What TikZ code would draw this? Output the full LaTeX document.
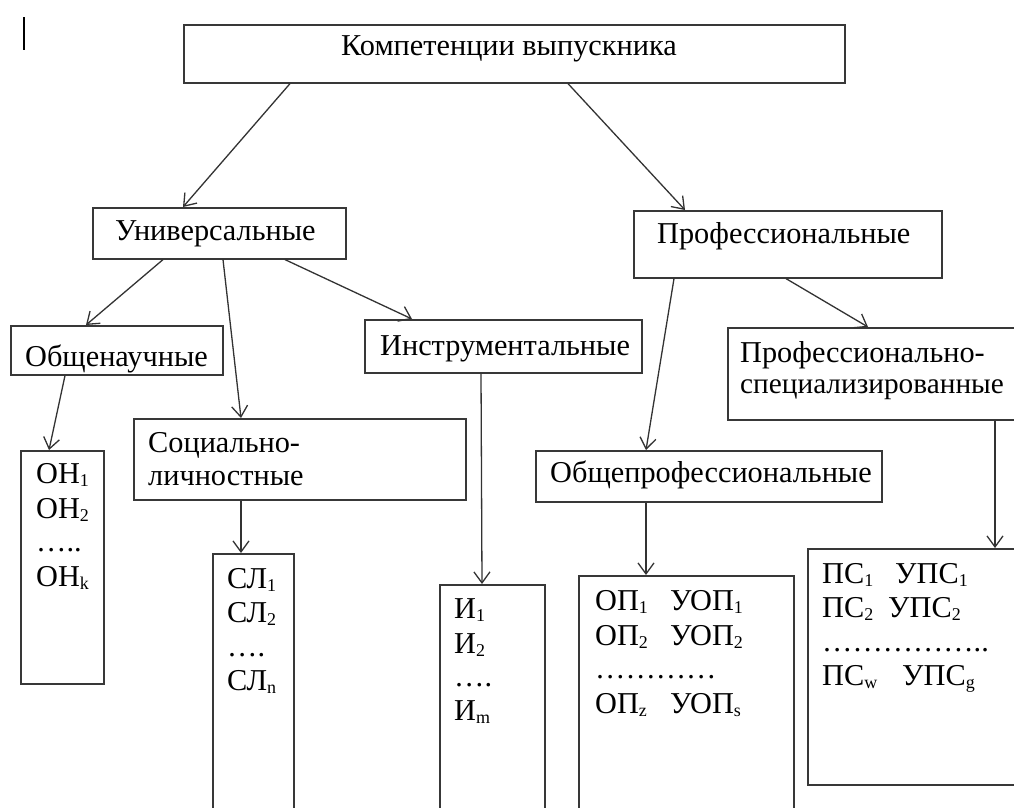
\documentclass[tikz,border=0pt]{standalone}
\usepackage{fontspec}
\setmainfont{Liberation Serif}
\usetikzlibrary{arrows.meta,calc}
\newcommand\sbx[1]{\raisebox{-3pt}{\fontsize{18}{18}\selectfont #1}}
\begin{document}
\begin{tikzpicture}[x=1pt,y=-1pt,
  box/.style={draw=black!78, line width=1.6pt, rectangle, inner sep=0pt, anchor=north west},
  lbl/.style={anchor=base west, inner sep=0pt, font=\fontsize{30.3}{36}\selectfont},
  arr/.style={draw=black!80, line width=1.3pt, -{Straight Barb[length=11pt,width=16pt,line width=1.3pt]}}]
\useasboundingbox (0,0) rectangle (1014,807);
\fill[white] (0,0) rectangle (1014,807);
\clip (0,0) rectangle (1014,807);
% cursor bar
\draw[line width=2pt, black] (24,17) -- (24,50);
% boxes
\node[box, minimum width=661pt, minimum height=58pt] (top) at (183,24) {};
\node[box, minimum width=253pt, minimum height=51pt] (univ) at (92,207) {};
\node[box, minimum width=308pt, minimum height=67pt] (prof) at (633,210) {};
\node[box, minimum width=212pt, minimum height=49pt] (obsh) at (10,325) {};
\node[box, minimum width=277pt, minimum height=53pt] (instr) at (364,319) {};
\node[box, minimum width=300pt, minimum height=92pt] (psp) at (727,327) {};
\node[box, minimum width=332pt, minimum height=81pt] (soc) at (133,418) {};
\node[box, minimum width=346pt, minimum height=51pt] (oprof) at (535,450) {};
\node[box, minimum width=83pt, minimum height=233pt] (on) at (20,450) {};
\node[box, minimum width=81pt, minimum height=280pt] (sl) at (212,553) {};
\node[box, minimum width=105pt, minimum height=250pt] (ii) at (439,584) {};
\node[box, minimum width=215pt, minimum height=260pt] (op) at (578,575) {};
\node[box, minimum width=230pt, minimum height=236pt] (ps) at (807,548) {};
% titles
\node[lbl] (ttop) at (341,55) {Компетенции выпускника};
\node[lbl] (tuniv) at (115,240) {Универсальные};
\node[lbl] (tprof) at (657,243) {Профессиональные};
\node[lbl] (tobsh) at (25,366) {Общенаучные};
\node[lbl] (tinstr) at (380,355) {Инструментальные};
\node[lbl] (tpsp1) at (740,362) {Профессионально-};
\node[lbl, font=\fontsize{29.3}{36}\selectfont] (tpsp2) at (740,393) {специализированные};
\node[lbl] (tsoc1) at (148,452) {Социально-};
\node[lbl] (tsoc2) at (148,485) {личностные};
\node[lbl] (toprof) at (550,482) {Общепрофессиональные};
% lists
\node[lbl] (on1) at (36,483) {ОН\sbx{1}};
\node[lbl] (on2) at (36,518) {ОН\sbx{2}};
\node[lbl] (on3) at (36,551) {…..};
\node[lbl] (on4) at (36,586) {ОН\sbx{k}};
\node[lbl] (sl1) at (227,588) {СЛ\sbx{1}};
\node[lbl] (sl2) at (227,622) {СЛ\sbx{2}};
\node[lbl] (sl3) at (227,656) {….};
\node[lbl] (sl4) at (227,690) {СЛ\sbx{n}};
\node[lbl] (i1) at (454,618) {И\sbx{1}};
\node[lbl] (i2) at (454,653) {И\sbx{2}};
\node[lbl] (i3) at (454,686) {….};
\node[lbl] (i4) at (454,720) {И\sbx{m}};
\node[lbl] (op1) at (595,610) {ОП\sbx{1}};
\node[lbl] (uop1) at (670,610) {УОП\sbx{1}};
\node[lbl] (op2) at (595,645) {ОП\sbx{2}};
\node[lbl] (uop2) at (670,645) {УОП\sbx{2}};
\node[lbl] (op3) at (595,678) {…………};
\node[lbl] (op4) at (595,713) {ОП\sbx{z}};
\node[lbl] (uop4) at (670,713) {УОП\sbx{s}};
\node[lbl] (ps1) at (822,583) {ПС\sbx{1}};
\node[lbl] (ups1) at (895,583) {УПС\sbx{1}};
\node[lbl] (ps2) at (822,617) {ПС\sbx{2}};
\node[lbl] (ups2) at (888,617) {УПС\sbx{2}};
\node[lbl] (ps3) at (822,651) {……………..};
\node[lbl] (ps4) at (822,685) {ПС\sbx{w}};
\node[lbl] (ups4) at (902,685) {УПС\sbx{g}};
% connectors
\draw[arr] ($(top.south west)+(107,0)$) -- ($(univ.north west)+(91,0)$);
\draw[arr] ($(top.south west)+(385,0)$) -- ($(prof.north west)+(52,0)$);
\draw[arr] ($(univ.south west)+(71,0)$) -- ($(obsh.north west)+(76,0)$);
\draw[arr] ($(univ.south west)+(131,0)$) -- ($(soc.north west)+(108,0)$);
\draw[arr] ($(univ.south west)+(193,0)$) -- ($(instr.north west)+(48,0)$);
\draw[arr] ($(obsh.south west)+(55,0)$) -- ($(on.north west)+(29,0)$);
\draw[arr] ($(soc.south west)+(108,0)$) -- ($(sl.north west)+(29,0)$);
\draw[arr] ($(instr.south west)+(117,0)$) -- ($(ii.north west)+(43,0)$);
\draw[arr] ($(prof.south west)+(41,0)$) -- ($(oprof.north west)+(111,0)$);
\draw[arr] ($(prof.south west)+(153,0)$) -- ($(psp.north west)+(141,0)$);
\draw[arr] ($(oprof.south west)+(111,0)$) -- ($(op.north west)+(68,0)$);
\draw[arr] ($(psp.south west)+(268,0)$) -- ($(ps.north west)+(188,0)$);
\end{tikzpicture}
\end{document}
